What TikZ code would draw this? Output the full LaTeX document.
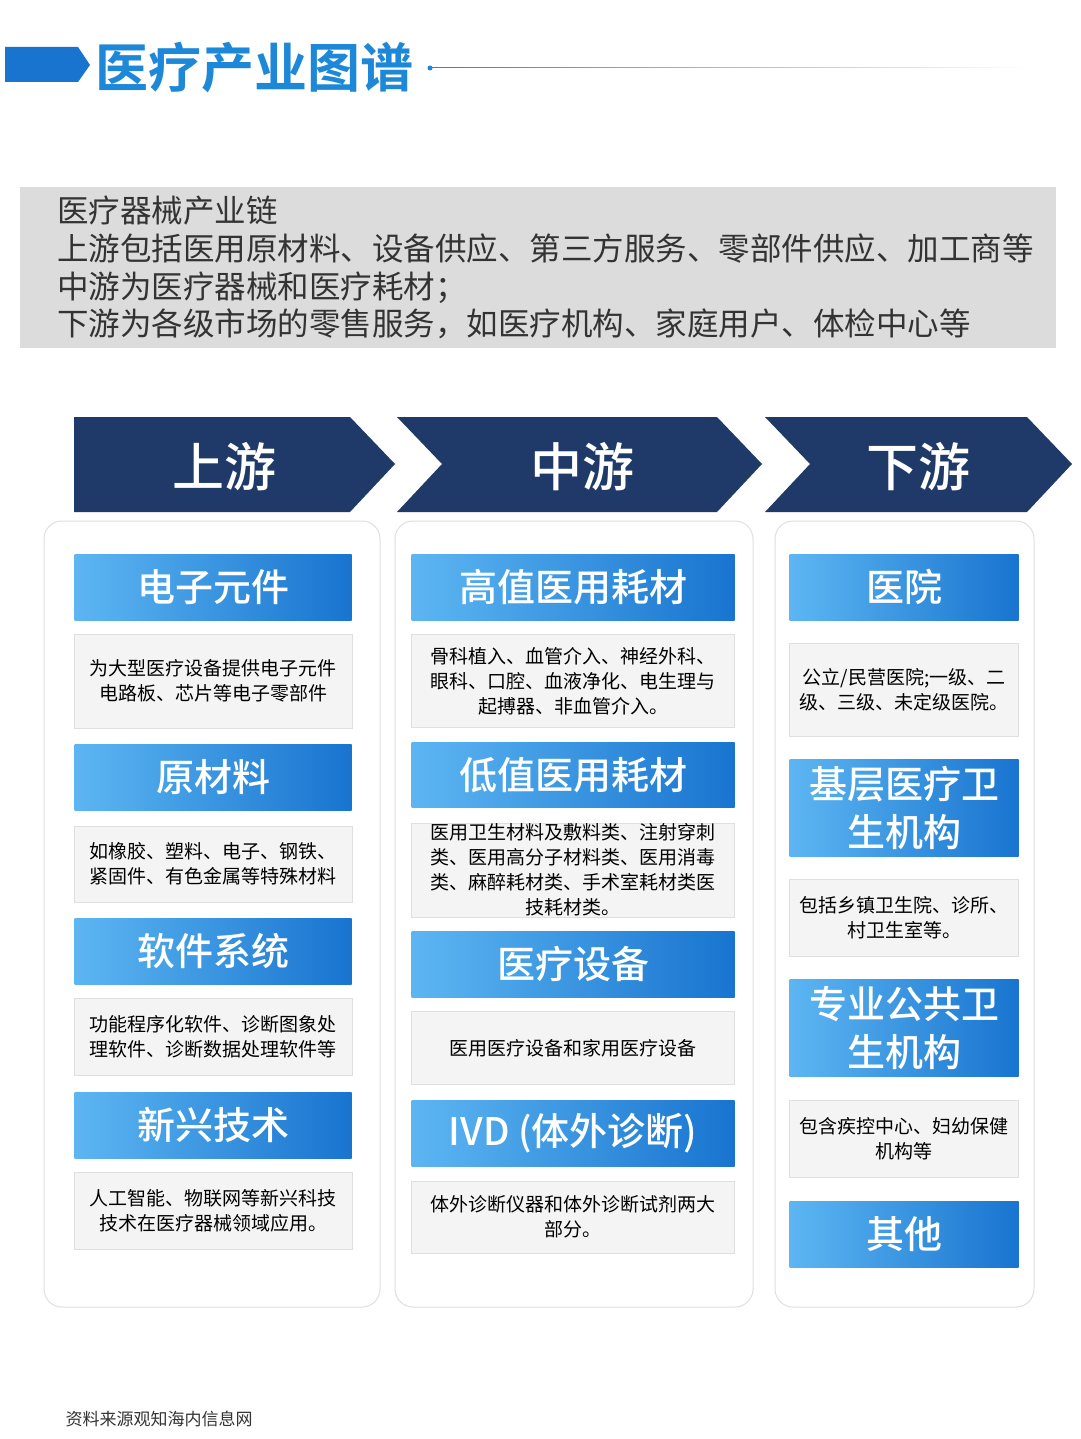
\documentclass[tikz,border=0pt]{standalone}
\usepackage{fontspec}
\setmainfont{Noto Sans CJK SC}[BoldFont={Noto Sans CJK SC Bold}]
\newfontfamily\medf{Noto Sans CJK SC Medium}
\usetikzlibrary{shapes.geometric}
\definecolor{navy}{HTML}{1F3A68}
\definecolor{tblue}{HTML}{1E88D8}
\definecolor{hl}{HTML}{5DB6F2}
\definecolor{hd}{HTML}{1874CF}
\definecolor{dgray}{HTML}{DCDCDC}
\definecolor{txt}{HTML}{333333}
\tikzset{
 hdr/.style={rectangle,left color=hl,right color=hd,text=white,font=\medf\fontsize{38}{44}\selectfont,align=center,inner sep=0pt},
 dsc/.style={rectangle,fill=gray!9,draw=gray!25,text=black,font=\fontsize{19}{25}\selectfont,align=center,inner sep=0pt},
 panel/.style={draw=gray!25,fill=white,rounded corners=18pt,line width=1pt},
 chev/.style={fill=navy},
 chevt/.style={text=white,font=\medf\fontsize{52}{60}\selectfont}
}
\begin{document}
\begin{tikzpicture}[x=1pt,y=-1pt]
\useasboundingbox (0,0) rectangle (1080,1439);
\fill[white] (0,0) rectangle (1080,1439);
% title
\fill[hd] (5,47) -- (78,47) -- (90,65) -- (78,82) -- (5,82) -- cycle;
\node[anchor=west,text=tblue,font=\bfseries\fontsize{53}{58}\selectfont] (title) at (92,68) {医疗产业图谱};
\fill[tblue] (430,68) circle (2.5pt);
\coordinate (ls) at (430,68);
\coordinate (le) at (1030,68);
\shade[left color=tblue,right color=white] (ls) ++(0,-0.8) rectangle ([yshift=0.8pt]le);
% gray box
\fill[dgray] (20,187) rectangle (1056,348);
\node[anchor=north west,text=txt,font=\fontsize{31.5}{37.7}\selectfont,align=left,inner sep=0pt] (intro) at (57,196) {医疗器械产业链\\上游包括医用原材料、设备供应、第三方服务、零部件供应、加工商等\\中游为医疗器械和医疗耗材；\\下游为各级市场的零售服务，如医疗机构、家庭用户、体检中心等};
% chevrons
\fill[chev] (74,417) -- (350,417) -- (395,464) -- (350,512) -- (74,512) -- cycle;
\fill[chev] (397,417) -- (717,417) -- (762,464) -- (717,512) -- (397,512) -- (442,464) -- cycle;
\fill[chev] (765,417) -- (1027,417) -- (1072,464) -- (1027,512) -- (765,512) -- (810,464) -- cycle;
\node[chevt] (c1) at (224,467) {上游};
\node[chevt] (c2) at (582,467) {中游};
\node[chevt] (c3) at (918,467) {下游};
% panels
\draw[panel] (44,521) rectangle (380,1307);
\draw[panel] (395,521) rectangle (753,1307);
\draw[panel] (775,521) rectangle (1034,1307);
% column 1
\node[hdr,minimum width=277pt,minimum height=66pt] (a1) at (213,587) {电子元件};
\node[dsc,minimum width=278pt,minimum height=94pt] (d1) at (213,681) {为大型医疗设备提供电子元件\\电路板、芯片等电子零部件};
\node[hdr,minimum width=277pt,minimum height=66pt] (a2) at (213,777) {原材料};
\node[dsc,minimum width=278pt,minimum height=76pt] (d2) at (213,864) {如橡胶、塑料、电子、钢铁、\\紧固件、有色金属等特殊材料};
\node[hdr,minimum width=277pt,minimum height=66pt] (a3) at (213,951) {软件系统};
\node[dsc,minimum width=278pt,minimum height=77pt] (d3) at (213,1037) {功能程序化软件、诊断图象处\\理软件、诊断数据处理软件等};
\node[hdr,minimum width=277pt,minimum height=66pt] (a4) at (213,1125) {新兴技术};
\node[dsc,minimum width=278pt,minimum height=77pt] (d4) at (213,1211) {人工智能、物联网等新兴科技\\技术在医疗器械领域应用。};
% column 2
\node[hdr,minimum width=323pt,minimum height=66pt] (b1) at (573,587) {高值医用耗材};
\node[dsc,minimum width=323pt,minimum height=93pt] (e1) at (573,681) {骨科植入、血管介入、神经外科、\\眼科、口腔、血液净化、电生理与\\起搏器、非血管介入。};
\node[hdr,minimum width=323pt,minimum height=65pt] (b2) at (573,775) {低值医用耗材};
\node[dsc,minimum width=323pt,minimum height=94pt] (e2) at (573,870) {医用卫生材料及敷料类、注射穿刺\\类、医用高分子材料类、医用消毒\\类、麻醉耗材类、手术室耗材类医\\技耗材类。};
\node[hdr,minimum width=323pt,minimum height=66pt] (b3) at (573,964) {医疗设备};
\node[dsc,minimum width=323pt,minimum height=73pt] (e3) at (573,1048) {医用医疗设备和家用医疗设备};
\node[hdr,minimum width=323pt,minimum height=66pt] (b4) at (573,1133) {IVD (体外诊断)};
\node[dsc,minimum width=323pt,minimum height=72pt] (e4) at (573,1217) {体外诊断仪器和体外诊断试剂两大\\部分。};
% column 3
\node[hdr,minimum width=229pt,minimum height=66pt] (g1) at (904,587) {医院};
\node[dsc,minimum width=229pt,minimum height=93pt] (f1) at (904,690) {公立/民营医院;一级、二\\级、三级、未定级医院。};
\node[hdr,minimum width=229pt,minimum height=97pt,font=\medf\fontsize{38}{48}\selectfont] (g2) at (904,808) {基层医疗卫\\生机构};
\node[dsc,minimum width=229pt,minimum height=77pt] (f2) at (904,918) {包括乡镇卫生院、诊所、\\村卫生室等。};
\node[hdr,minimum width=229pt,minimum height=97pt,font=\medf\fontsize{38}{48}\selectfont] (g3) at (904,1028) {专业公共卫\\生机构};
\node[dsc,minimum width=229pt,minimum height=77pt] (f3) at (904,1139) {包含疾控中心、妇幼保健\\机构等};
\node[hdr,minimum width=229pt,minimum height=66pt] (g4) at (904,1234) {其他};
% footer
\node[anchor=west,text=txt,font=\fontsize{17}{20}\selectfont] (src) at (62,1419) {资料来源观知海内信息网};
\end{tikzpicture}
\end{document}
